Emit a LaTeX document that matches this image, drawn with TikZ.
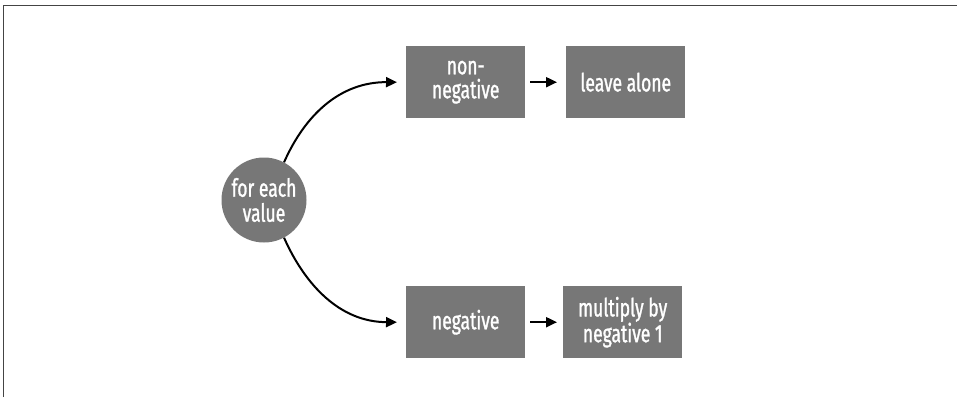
\documentclass[tikz,border=0pt]{standalone}
\usepackage{fontspec}
\setmainfont{Fira Sans}[FakeStretch=0.7,FakeBold=1.2]
\usetikzlibrary{arrows.meta}
\definecolor{boxgray}{HTML}{777777}
\definecolor{framegray}{HTML}{444444}
\begin{document}
\begin{tikzpicture}[x=1pt,y=-1pt,
  graybox/.style={fill=boxgray,draw=none,minimum width=119pt,minimum height=72pt,inner sep=0pt,
    text=white,font=\fontsize{25}{24}\selectfont,align=center,anchor=north west},
  graycirc/.style={circle,fill=boxgray,draw=none,minimum size=85pt,inner sep=0pt,
    text=white,font=\fontsize{25}{25}\selectfont,align=center},
  conn/.style={line width=2pt,-{Triangle[length=11pt,width=10pt]}}]
\useasboundingbox (0,0) rectangle (957,397);
\fill[white] (0,0) rectangle (957,397);
\draw[framegray,line width=1pt] (3,397) -- (3,5) -- (957,5);
\node[graycirc] (c) at (264,200) {for each\\value};
\node[graybox] (nn) at (406,46) {non-\\negative};
\node[graybox] (la) at (566,46) {leave alone};
\node[graybox] (ng) at (406,286) {negative};
\node[graybox] (mu) at (563,286) {multiply by\\negative 1};
\draw[conn,shorten >=9pt] (c.62) .. controls (305,115) and (340,82) .. (nn.west);
\draw[conn,shorten >=9pt] (c.-62) .. controls (305,285) and (340,322) .. (ng.west);
\draw[conn,shorten <=5pt,shorten >=9pt] (nn.east) -- (la.west);
\draw[conn,shorten <=5pt,shorten >=6pt] (ng.east) -- (mu.west);
\end{tikzpicture}
\end{document}
